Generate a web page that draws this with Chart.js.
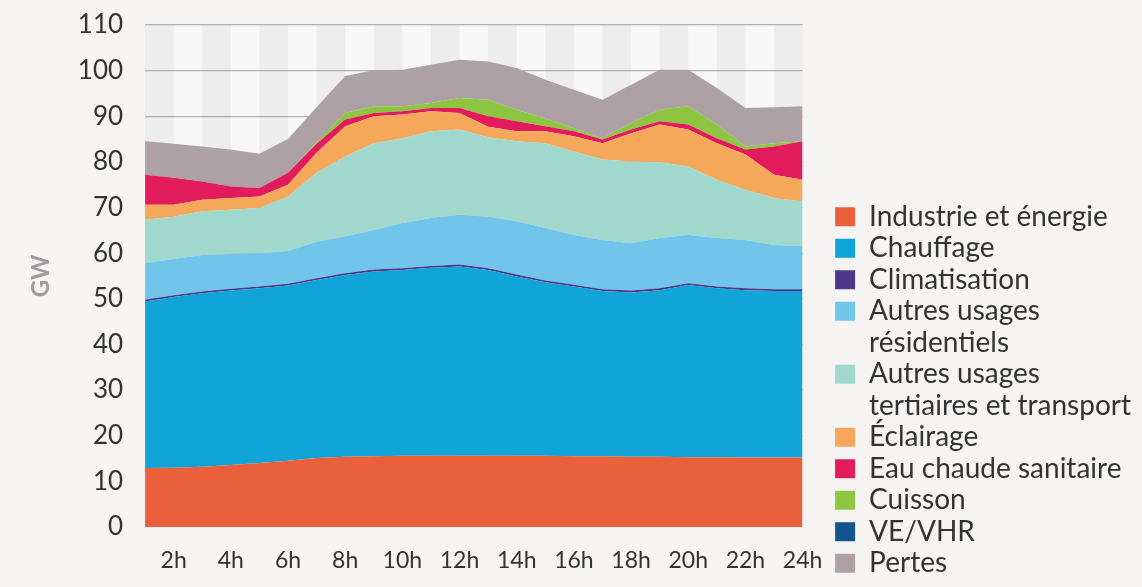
<!DOCTYPE html>
<html>
<head>
<meta charset="utf-8">
<script src="https://cdn.jsdelivr.net/npm/chart.js@4/dist/chart.umd.min.js"></script>
<style>
  html, body { margin: 0; padding: 0; background: #f5f4f3; }
  #wrap { width: 1142px; height: 587px; }
</style>
</head>
<body>
<div id="wrap"><canvas id="c" width="1142" height="587"></canvas></div>
<script>
// ---- Data (GW) ----
const hours = [1, 2, 3, 4, 5, 6, 7, 8, 9, 10, 11, 12, 13, 14, 15, 16, 17, 18, 19, 20, 21, 22, 23, 24];
const tickHours = [2, 4, 6, 8, 10, 12, 14, 16, 18, 20, 22, 24];
const yTicks = [0, 10, 20, 30, 40, 50, 60, 70, 80, 90, 100, 110];

const seriesNames = [
  "Industrie et énergie",
  "Chauffage",
  "Climatisation",
  "Autres usages\nrésidentiels",
  "Autres usages\ntertiaires et transport",
  "Éclairage",
  "Eau chaude sanitaire",
  "Cuisson",
  "VE/VHR",
  "Pertes"
];
const seriesColors = ["#ea603b", "#11a4d9", "#4e3688", "#72c5ea", "#a0d8cd", "#f6a85a", "#e21c5c", "#8ec641", "#15558f", "#aea1a6"];

const industrie    = [12.9, 13.0, 13.2, 13.6, 14.0, 14.5, 15.1, 15.4, 15.5, 15.6, 15.6, 15.6, 15.6, 15.6, 15.6, 15.5, 15.5, 15.4, 15.4, 15.3, 15.3, 15.2, 15.2, 15.2];
const chauffage    = [36.5, 37.4, 38.0, 38.2, 38.3, 38.4, 39.0, 39.8, 40.5, 40.7, 41.2, 41.5, 40.7, 39.3, 38.0, 37.2, 36.2, 36.0, 36.5, 37.7, 37.0, 36.7, 36.5, 36.5];
const climatisation= [0.4, 0.4, 0.4, 0.4, 0.4, 0.4, 0.4, 0.4, 0.4, 0.4, 0.4, 0.4, 0.4, 0.4, 0.4, 0.4, 0.4, 0.4, 0.4, 0.4, 0.4, 0.4, 0.4, 0.4];
const residentiel  = [8.0, 7.9, 8.0, 7.6, 7.3, 7.2, 8.0, 8.1, 8.7, 9.9, 10.5, 10.9, 11.3, 11.7, 11.5, 10.9, 10.8, 10.4, 11.0, 10.6, 10.6, 10.6, 9.7, 9.4];
const tertiaire    = [9.5, 9.3, 9.6, 9.7, 9.9, 11.9, 15.1, 17.5, 19.0, 18.6, 19.0, 18.7, 17.4, 17.5, 18.6, 18.3, 17.6, 17.9, 16.6, 15.0, 12.8, 11.0, 10.3, 9.8];
const eclairage    = [3.3, 2.6, 2.5, 2.6, 2.5, 2.6, 4.4, 6.6, 5.9, 5.2, 4.4, 3.6, 2.3, 2.2, 2.6, 3.3, 3.6, 6.2, 8.3, 8.1, 8.0, 7.7, 5.1, 4.8];
const eauChaude    = [6.6, 5.9, 4.0, 2.5, 1.9, 2.6, 2.0, 1.5, 0.7, 0.7, 0.7, 1.1, 2.3, 2.2, 1.1, 1.1, 0.8, 0.8, 0.7, 1.1, 1.1, 1.1, 6.2, 8.4];
const cuisson      = [0.0, 0.0, 0.0, 0.0, 0.0, 0.0, 0.3, 1.4, 1.5, 1.1, 1.1, 2.2, 3.6, 2.5, 1.7, 0.7, 0.3, 1.4, 2.5, 4.0, 3.0, 0.7, 0.7, 0.0];
const veVhr        = [0, 0, 0, 0, 0, 0, 0, 0, 0, 0, 0, 0, 0, 0, 0, 0, 0, 0, 0, 0, 0, 0, 0, 0];
const pertes       = [7.3, 7.5, 7.7, 8.1, 7.5, 7.4, 7.7, 8.1, 7.9, 8.0, 8.4, 8.4, 8.4, 9.2, 8.5, 8.4, 8.4, 8.4, 8.8, 8.0, 8.0, 8.4, 7.9, 7.7];

const seriesValues = [industrie, chauffage, climatisation, residentiel, tertiaire, eclairage, eauChaude, cuisson, veVhr, pertes];

// ---- Build datasets ----
const datasets = seriesValues.map((vals, i) => ({
  label: seriesNames[i].replace("\n", " "),
  data: hours.map((h, k) => ({ x: h, y: vals[k] })),
  backgroundColor: seriesColors[i],
  borderColor: seriesColors[i],
  borderWidth: 0,
  pointRadius: 0,
  tension: 0,
  fill: i === 0 ? "origin" : "-1"
}));

// background stripes (one per hour) inside the plot area
const stripes = {
  id: "stripes",
  beforeDraw(chart) {
    const { ctx, chartArea: a, scales: { x } } = chart;
    ctx.save();
    ctx.fillStyle = "#f7f7f7";
    ctx.fillRect(a.left, a.top, a.right - a.left, a.bottom - a.top);
    ctx.fillStyle = "#ededed";
    for (let k = 0; k < hours.length - 1; k += 2) {
      const x0 = x.getPixelForValue(hours[k]);
      const x1 = x.getPixelForValue(hours[k + 1]);
      ctx.fillRect(x0, a.top, x1 - x0, a.bottom - a.top);
    }
    ctx.restore();
  }
};

new Chart(document.getElementById("c"), {
  type: "line",
  data: { datasets },
  plugins: [stripes],
  options: {
    responsive: false,
    animation: false,
    devicePixelRatio: 1,
    layout: { padding: { left: 8, right: 1, top: 0, bottom: 0 } },
    plugins: {
      tooltip: { enabled: false },
      legend: {
        position: "right",
        align: "start",
        maxWidth: 420,
        title: { display: true, text: "", font: { size: 1 }, padding: { top: 198, bottom: 0 } },
        labels: {
          font: { family: "Lato", size: 28 },
          color: "#333333",
          boxWidth: 20,
          boxHeight: 19,
          padding: 3.5,
          generateLabels(chart) {
            const items = [];
            chart.data.datasets.forEach((ds, i) => {
              seriesNames[i].split("\n").forEach((t, j) => {
                items.push({
                  text: t,
                  fillStyle: j === 0 ? ds.backgroundColor : "rgba(0,0,0,0)",
                  strokeStyle: "rgba(0,0,0,0)",
                  lineWidth: 0,
                  hidden: false,
                  datasetIndex: i,
                  fontColor: "#333333"
                });
              });
            });
            return items;
          }
        }
      }
    },
    scales: {
      x: {
        type: "linear",
        min: hours[0],
        max: hours[hours.length - 1],
        afterBuildTicks(axis) { axis.ticks = tickHours.map(v => ({ value: v })); },
        ticks: {
          autoSkip: false,
          maxRotation: 0,
          padding: 6,
          color: "#333333",
          font: { family: "Lato", size: 23, lineHeight: 1.74 },
          callback: v => v + "h"
        },
        grid: { display: false, tickLength: 8 },
        border: { display: false }
      },
      y: {
        stacked: true,
        min: 0,
        max: 110,
        z: 1,
        afterBuildTicks(axis) { axis.ticks = yTicks.map(v => ({ value: v })); },
        ticks: {
          padding: 22,
          color: "#333333",
          font: { family: "Lato", size: 26, lineHeight: 0.23 }
        },
        grid: {
          drawTicks: false,
          lineWidth: 1.2,
          color: c => (c.tick && c.tick.value === 0 ? "rgba(0,0,0,0)" : "rgba(40,40,40,0.33)")
        },
        border: { display: false },
        title: {
          display: true,
          text: "GW",
          color: "#a29b9d",
          font: { family: "Lato", size: 24, weight: "bold" },
          padding: { top: 19, bottom: 0 }
        }
      },
      gap: {
        position: "right",
        display: true,
        ticks: { display: false },
        grid: { display: false },
        border: { display: false },
        afterFit(s) { s.width = 29; }
      }
    }
  }
});
</script>
</body>
</html>
